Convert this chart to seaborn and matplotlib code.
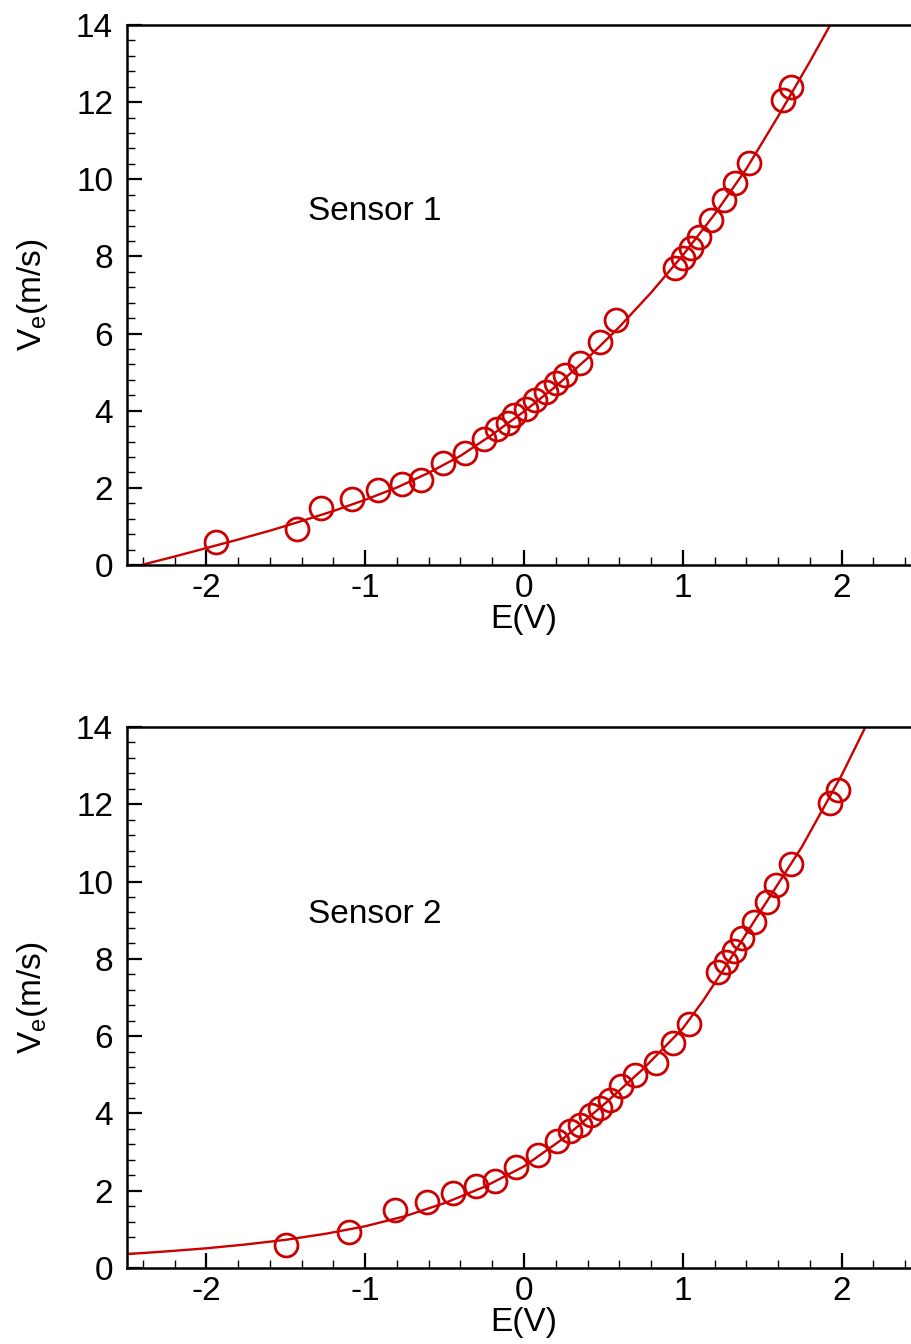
import numpy as np
import pandas as pd
import matplotlib
matplotlib.use("Agg")
import matplotlib.pyplot as plt
from matplotlib.ticker import MultipleLocator
import seaborn as sns

# ---- Sensor 1 data ----
s1_E = [-1.94, -1.43, -1.28, -1.08, -0.92, -0.77, -0.65, -0.51, -0.37, -0.25,
        -0.17, -0.10, -0.06, 0.01, 0.07, 0.14, 0.20, 0.26, 0.35, 0.48, 0.58,
        0.95, 1.00, 1.05, 1.10, 1.18, 1.26, 1.33, 1.42, 1.63, 1.68]
s1_V = [0.59, 0.93, 1.47, 1.70, 1.94, 2.09, 2.20, 2.64, 2.91, 3.27,
        3.52, 3.69, 3.89, 4.04, 4.28, 4.49, 4.72, 4.93, 5.23, 5.79, 6.35,
        7.69, 7.95, 8.21, 8.51, 8.94, 9.46, 9.90, 10.43, 12.06, 12.40]
# fitted calibration curve
s1_fit_E = [-2.41, -2.2, -2.0, -1.8, -1.6, -1.4, -1.2, -1.0, -0.8, -0.6,
            -0.4, -0.2, 0.0, 0.2, 0.4, 0.6, 0.8, 1.0, 1.2, 1.4, 1.6, 1.8, 2.0]
s1_fit_V = [0.0, 0.22, 0.44, 0.66, 0.89, 1.14, 1.40, 1.69, 2.01, 2.39,
            2.83, 3.38, 3.98, 4.63, 5.36, 6.17, 7.06, 8.03, 9.09, 10.27,
            11.63, 13.05, 14.53]

# ---- Sensor 2 data ----
s2_E = [-1.50, -1.10, -0.81, -0.61, -0.45, -0.30, -0.18, -0.05, 0.09, 0.21,
        0.29, 0.35, 0.42, 0.48, 0.54, 0.61, 0.70, 0.83, 0.94, 1.04,
        1.22, 1.27, 1.32, 1.37, 1.45, 1.53, 1.59, 1.68, 1.93, 1.98]
s2_V = [0.60, 0.94, 1.50, 1.72, 1.93, 2.12, 2.25, 2.62, 2.92, 3.28,
        3.54, 3.70, 3.96, 4.13, 4.35, 4.72, 5.00, 5.30, 5.82, 6.31,
        7.67, 7.93, 8.21, 8.53, 8.96, 9.48, 9.91, 10.45, 12.03, 12.37]
s2_fit_E = [-2.5, -2.25, -2.0, -1.75, -1.5, -1.25, -1.0, -0.75, -0.5, -0.25,
            0.0, 0.25, 0.5, 0.75, 1.0, 1.125, 1.25, 1.5, 1.75, 2.0, 2.15, 2.25]
s2_fit_V = [0.36, 0.43, 0.51, 0.61, 0.73, 0.885, 1.08, 1.34, 1.68, 2.10,
            2.63, 3.36, 4.22, 5.15, 6.20, 6.90, 7.68, 9.30, 10.90, 12.75,
            14.0, 14.9]

x_ticks = [-2, -1, 0, 1, 2]
y_ticks = [0, 2, 4, 6, 8, 10, 12, 14]
labels = ["Sensor 1", "Sensor 2"]

sns.set_theme(style="ticks")
plt.rcParams['font.family'] = ['Liberation Sans', 'DejaVu Sans']
plt.rcParams['mathtext.fontset'] = 'custom'
plt.rcParams['mathtext.rm'] = 'Liberation Sans'
for k in ["text.color", "axes.labelcolor", "xtick.color", "ytick.color",
          "axes.edgecolor"]:
    plt.rcParams[k] = "black"

RED = "#CC0000"
FS = 24
W, H = 911, 1344
fig = plt.figure(figsize=(W / 100, H / 100), dpi=100)
AX_W = (921 - 127) / W
ax1 = fig.add_axes([127 / W, (H - 565) / H, AX_W, 540 / H])
ax2 = fig.add_axes([127 / W, (H - 1268) / H, AX_W, 541 / H])

sets = [(ax1, s1_E, s1_V, s1_fit_E, s1_fit_V, labels[0]),
        (ax2, s2_E, s2_V, s2_fit_E, s2_fit_V, labels[1])]

for ax, E, V, fE, fV, lab in sets:
    fit = pd.DataFrame({"E": fE, "V": fV})
    pts = pd.DataFrame({"E": E, "V": V})
    sns.lineplot(data=fit, x="E", y="V", ax=ax, color=RED, lw=1.7,
                 sort=False, estimator=None)
    ax.plot(pts["E"], pts["V"], linestyle="none", marker="o", ms=16.5,
            mfc="none", mec=RED, mew=2.0)
    ax.set_xlim(-2.5, 2.5)
    ax.set_ylim(0, 14)
    ax.set_xticks(x_ticks)
    ax.set_yticks(y_ticks)
    ax.set_xticklabels([str(t) for t in x_ticks])
    ax.set_yticklabels([str(t) for t in y_ticks])
    ax.xaxis.set_minor_locator(MultipleLocator(0.2))
    ax.yaxis.set_minor_locator(MultipleLocator(0.4))
    ax.tick_params(which="major", direction="in", length=11, width=1.6,
                   labelsize=FS, top=False, right=False)
    ax.tick_params(which="minor", direction="in", length=6, width=1.0,
                   top=False, right=False)
    ax.tick_params(axis="y", which="major", pad=10)
    ax.tick_params(axis="x", which="major", pad=6)
    for s in ["left", "bottom", "top"]:
        ax.spines[s].set_visible(True)
        ax.spines[s].set_linewidth(1.8)
        ax.spines[s].set_color("black")
    ax.spines["right"].set_visible(False)
    ax.set_xlabel("E(V)", fontsize=FS, labelpad=0)
    ax.set_ylabel(r"V$_\mathregular{e}$(m/s)", fontsize=FS, labelpad=19)
    ax.text(-1.36, 8.94, lab, fontsize=FS, ha="left", va="baseline")

fig.savefig("out.png", dpi=100)
